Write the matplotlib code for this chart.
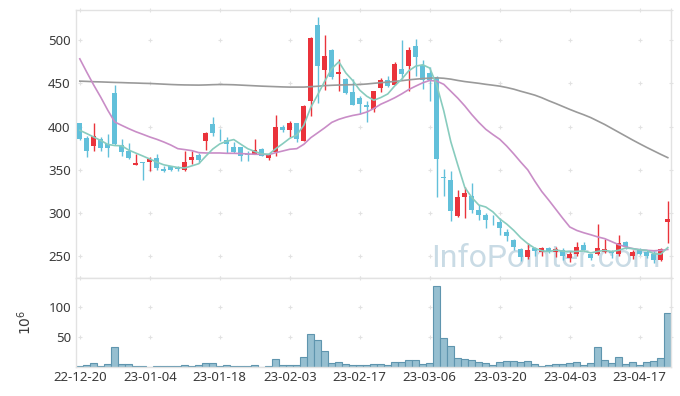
import numpy as np
import matplotlib
matplotlib.use('Agg')
import matplotlib.pyplot as plt

plt.rcParams['font.family'] = ['Noto Sans', 'DejaVu Sans']

# 일봉 데이터
opens = [403.8, 386.5, 377.7, 385.4, 380.4, 438.5, 379.2, 371.5, 355.8, 359.5,
         358.8, 363.5, 350.8, 354.2, 352.7, 350.0, 361.5, 367.7, 383.8, 402.7,
         389.6, 384.2, 376.2, 376.2, 368.9, 368.1, 374.6, 363.8, 370.4, 399.2,
         396.2, 403.8, 383.5, 429.6, 518.1, 465.4, 489.2, 460.8, 455.4, 440.4,
         432.7, 424.6, 420.0, 444.2, 454.2, 448.8, 466.9, 470.0, 493.8, 471.9,
         462.3, 456.5, 341.5, 338.1, 296.9, 318.5, 320.0, 303.9, 298.1, 292.3,
         289.6, 277.7, 268.5, 258.5, 248.9, 259.6, 255.0, 259.3, 255.0, 257.7,
         248.1, 252.7, 262.7, 252.7, 252.7, 255.0, 255.8, 252.7, 266.5, 250.0,
         257.3, 254.6, 253.1, 245.4, 289.6]
highs = [404.6, 389.2, 404.6, 388.1, 391.5, 448.5, 385.4, 381.5, 368.9, 359.5,
         364.6, 368.1, 354.6, 354.6, 354.6, 371.5, 371.5, 369.2, 394.0, 410.8,
         396.9, 387.7, 382.3, 376.5, 371.5, 385.4, 375.4, 370.0, 413.1, 401.9,
         406.5, 404.2, 424.6, 503.5, 526.9, 506.5, 490.0, 478.5, 456.0, 454.6,
         435.4, 429.6, 441.2, 456.5, 459.2, 475.4, 500.8, 491.9, 501.5, 476.9,
         469.2, 459.2, 350.8, 348.8, 326.9, 330.0, 335.0, 309.6, 300.0, 298.1,
         294.3, 281.6, 270.0, 259.6, 265.4, 260.8, 260.4, 260.4, 260.4, 259.3,
         255.8, 266.9, 266.2, 252.7, 287.7, 270.0, 257.7, 274.6, 267.3, 257.7,
         259.3, 257.7, 255.8, 259.6, 313.5]
lows = [384.6, 365.4, 371.9, 371.9, 365.4, 378.9, 366.5, 362.3, 355.8, 338.9,
        349.2, 349.6, 347.3, 348.9, 349.2, 349.2, 356.9, 357.7, 373.1, 389.2,
        383.8, 370.0, 369.2, 360.8, 360.8, 368.1, 366.2, 361.2, 366.2, 394.2,
        388.5, 382.3, 383.1, 412.3, 427.7, 442.3, 455.4, 441.5, 437.5, 424.6,
        414.6, 405.4, 416.9, 440.4, 446.2, 448.5, 454.6, 441.2, 458.5, 443.1,
        429.6, 319.2, 320.0, 291.2, 295.8, 294.5, 300.5, 292.3, 282.7, 286.6,
        275.0, 267.3, 257.7, 244.3, 247.0, 250.8, 250.8, 253.9, 249.3, 246.2,
        243.1, 250.0, 256.9, 246.2, 251.6, 253.9, 248.1, 250.8, 258.5, 246.9,
        251.9, 248.1, 242.3, 244.3, 265.4]
closes = [386.2, 371.9, 388.8, 375.4, 375.4, 379.6, 370.4, 363.8, 358.1, 358.5,
          362.3, 352.3, 348.5, 350.0, 350.8, 359.6, 364.6, 361.2, 393.1, 392.7,
          388.8, 380.0, 370.8, 366.2, 366.9, 372.7, 366.5, 367.7, 399.2, 395.8,
          403.8, 385.4, 423.8, 503.1, 470.0, 481.5, 457.3, 463.8, 438.5, 425.4,
          425.8, 422.7, 440.8, 453.8, 446.5, 472.7, 461.5, 489.2, 480.4, 454.2,
          453.5, 362.3, 340.8, 302.7, 319.2, 323.5, 303.8, 297.3, 291.6, 291.6,
          282.3, 273.9, 260.4, 249.3, 257.7, 255.8, 259.3, 255.4, 258.9, 250.8,
          253.1, 260.8, 257.7, 247.7, 259.6, 258.9, 253.9, 265.4, 260.8, 255.4,
          252.7, 250.8, 245.4, 258.5, 293.5]
volume = [1, 3, 7, 1, 4, 32.5, 4, 4, 1, 1,
          0, 1, 1, 1, 1, 3, 1, 3, 7, 5.5,
          1, 2.5, 1, 1, 1, 3, 0, 1, 13, 3,
          3, 3, 16.3, 55, 45, 26.4, 6.2, 7.9, 4.5, 3,
          3, 3, 4.5, 4.5, 3, 7.9, 7.9, 11.2, 11.2, 4.5,
          6.2, 135.8, 47.7, 34.8, 14.6, 12.3, 11.2, 7.9, 6.2, 2.8,
          7.9, 9.5, 9.5, 7.9, 9.5, 4.5, 1, 2.8, 4.5, 4.5,
          6.2, 7.9, 2.8, 6.2, 33, 11.2, 6.2, 16.3, 4.5, 7.9,
          2.8, 7.9, 9.5, 14.6, 90.3]

# 이동평균선
ma5 = [395.8, 392.0, 388.0, 384.0, 379.5, 378.2, 377.9, 372.9, 369.5, 366.1,
       362.6, 359.0, 355.9, 354.3, 352.8, 352.2, 354.7, 357.2, 365.9, 374.2,
       380.1, 383.2, 385.1, 379.7, 374.5, 371.3, 368.6, 368.0, 374.6, 380.4,
       386.6, 390.4, 401.6, 422.4, 437.2, 452.8, 467.1, 475.1, 462.2, 453.3,
       442.2, 435.2, 430.6, 433.7, 437.9, 447.3, 455.1, 464.7, 470.1, 471.6,
       467.8, 447.9, 418.2, 382.7, 355.7, 329.8, 318.1, 309.4, 307.1, 301.6,
       293.3, 287.3, 280.0, 271.5, 264.7, 259.4, 256.5, 255.5, 257.4, 256.0,
       255.5, 255.8, 256.3, 254.0, 255.8, 256.9, 255.6, 257.1, 259.7, 258.9,
       257.6, 257.0, 253.0, 252.6, 260.2]
ma20 = [478.5, 463.0, 448.0, 434.0, 419.0, 405.4, 401.5, 397.7, 394.2, 391.2,
        388.1, 385.4, 382.3, 378.8, 374.6, 373.5, 372.3, 370.0, 369.6, 369.6,
        369.6, 369.2, 369.2, 368.9, 368.5, 368.1, 368.1, 367.7, 370.0, 371.9,
        373.9, 374.6, 379.6, 387.3, 393.0, 398.8, 405.0, 408.5, 411.0, 413.0,
        414.5, 417.0, 421.0, 426.0, 429.6, 433.5, 438.0, 443.0, 447.0, 450.8,
        453.5, 452.7, 449.0, 441.0, 433.0, 424.0, 414.0, 405.0, 397.0, 391.0,
        385.4, 377.5, 368.5, 359.0, 350.0, 337.0, 325.0, 315.0, 304.5, 294.0,
        284.0, 280.0, 277.3, 275.0, 272.5, 270.5, 267.0, 263.5, 261.0, 259.0,
        257.7, 257.0, 256.5, 257.0, 258.0]
ma60 = [452.7, 452.4, 452.0, 451.8, 451.5, 451.2, 451.0, 450.7, 450.5, 450.2,
        450.0, 449.6, 449.2, 448.8, 448.5, 448.3, 448.2, 448.1, 448.3, 448.6,
        448.8, 448.7, 448.5, 448.1, 447.7, 447.3, 446.9, 446.6, 446.3, 446.0,
        445.8, 445.8, 445.8, 446.3, 446.8, 447.5, 447.9, 448.2, 448.4, 448.6,
        448.8, 449.4, 450.2, 450.9, 451.6, 452.4, 453.2, 454.2, 455.0, 455.7,
        456.2, 456.5, 456.0, 455.0, 453.5, 452.2, 451.2, 450.2, 449.0, 448.0,
        446.9, 445.3, 443.4, 441.0, 438.8, 436.5, 433.5, 430.0, 426.8, 423.4,
        420.0, 416.8, 413.8, 410.5, 406.5, 402.5, 398.0, 393.5, 389.0, 384.5,
        380.2, 376.0, 372.0, 368.0, 364.2]

tick_labels = ['22-12-20', '23-01-04', '23-01-18', '23-02-03', '23-02-17',
               '23-03-06', '23-03-20', '23-04-03', '23-04-17']

up_color = '#ea333b'
down_color = '#62c0da'
text_color = '#3a3a3a'
spine_color = '#e2e2e2'
mark_color = '#e2e2e2'

x = np.arange(len(closes))
o = np.array(opens)
c = np.array(closes)
up = c >= o
colors = np.where(up, up_color, down_color)

fig = plt.figure(figsize=(6.8, 3.96), dpi=100)
ax = fig.add_axes([0.1122, 0.298, 0.875, 0.6768])
ax2 = fig.add_axes([0.1122, 0.074, 0.875, 0.224], sharex=ax)

x_lim = (-0.5, len(closes) - 0.5)
tick_pos = np.arange(0, 10 * len(tick_labels), 10)

# 가격 패널
ax.set_xlim(*x_lim)
ax.set_ylim(225, 535)
yt = [250, 300, 350, 400, 450, 500]
ax.set_yticks(yt)

# 그리드 대신 '+' 표시
gx, gy = np.meshgrid(np.append(tick_pos, x_lim[1]), yt + [225, 535])
ax.scatter(gx.ravel(), gy.ravel(), marker='+', s=10, color=mark_color,
           linewidths=0.8, zorder=0, clip_on=False)

ax.text(0.982, 0.04, 'InfoPointer.com', transform=ax.transAxes, ha='right',
        va='baseline', fontsize=23, color='#c9dbe5', family='Roboto', zorder=1)

ax.vlines(x, lows, highs, colors=colors, linewidth=1.0, zorder=2)
body = np.maximum(np.abs(c - o), 0.9)
ax.bar(x, body, bottom=np.minimum(o, c), width=0.68, color=colors, zorder=3)

ax.plot(x, ma60, color='#9a9a9a', lw=1.2, zorder=4)
ax.plot(x, ma20, color='#c98dc7', lw=1.2, zorder=4)
ax.plot(x, ma5, color='#88ccbe', lw=1.2, zorder=4)

ax.tick_params(axis='x', bottom=False, labelbottom=False)
ax.tick_params(axis='y', length=0, pad=4, labelsize=9.5, labelcolor=text_color)

# 거래량 패널
ax2.set_ylim(0, 149)
ax2.set_yticks([50, 100])
gx2, gy2 = np.meshgrid(np.append(tick_pos, x_lim[1]), [50, 100, 149])
ax2.scatter(gx2.ravel(), gy2.ravel(), marker='+', s=10, color=mark_color,
            linewidths=0.8, zorder=0, clip_on=False)
ax2.bar(x, volume, width=1.0, color='#96bfd0', edgecolor='#5f95ae',
        linewidth=0.8, zorder=2)
ax2.set_xticks(tick_pos)
ax2.set_xticklabels(tick_labels)
ax2.tick_params(axis='both', length=0, labelsize=9.5, labelcolor=text_color)
ax2.tick_params(axis='x', pad=3)
ax2.set_ylabel(r'$10^6$', color=text_color, fontsize=10, labelpad=10)

for a in (ax, ax2):
    for s in a.spines.values():
        s.set_color(spine_color)
        s.set_linewidth(1.0)

fig.savefig('out.png', dpi=100, facecolor='white')
